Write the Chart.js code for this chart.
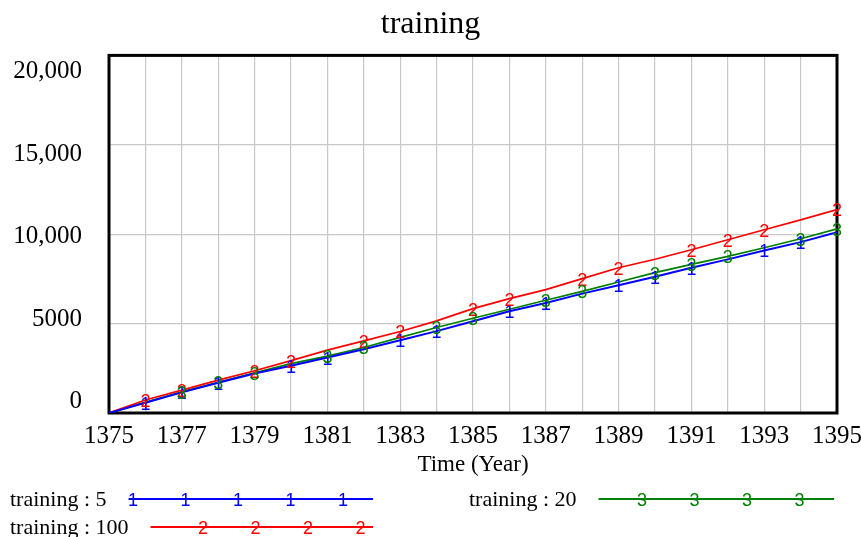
<!DOCTYPE html>
<html lang="en">
<head>
  <meta charset="UTF-8">
  <title>training</title>
  <script src="https://cdn.jsdelivr.net/npm/chart.js"></script>
  <style>
    body { margin: 0; background: #fff; }
  </style>
</head>
<body>
  <canvas id="trainingChart" width="861" height="537"></canvas>

  <script>
    // yearly values
    const years = [1375, 1376, 1377, 1378, 1379, 1380, 1381, 1382, 1383, 1384, 1385,
                   1386, 1387, 1388, 1389, 1390, 1391, 1392, 1393, 1394, 1395];
    const training5 = [0, 575, 1155, 1690, 2214, 2640, 3100, 3570, 4073, 4580, 5130,
                       5690, 6155, 6676, 7141, 7620, 8127, 8591, 9093, 9558, 10116];
    const training100 = [0, 725, 1283, 1841, 2361, 2930, 3515, 4034, 4560, 5150, 5840,
                         6398, 6899, 7513, 8126, 8600, 9130, 9688, 10246, 10804, 11380];
    const training20 = [0, 600, 1180, 1710, 2250, 2760, 3180, 3665, 4230, 4781, 5300,
                        5802, 6304, 6806, 7327, 7850, 8312, 8759, 9244, 9744, 10303];

    // years where the numbered markers sit on each run
    const marks5 = [1376, 1377, 1378, 1380, 1381, 1383, 1384, 1386, 1387, 1389, 1390, 1391, 1393, 1394];
    const marks100 = [1376, 1377, 1379, 1380, 1382, 1383, 1385, 1386, 1388, 1389, 1391, 1392, 1393, 1395];
    const marks20 = [1377, 1378, 1379, 1381, 1382, 1384, 1385, 1387, 1388, 1390, 1391, 1392, 1394, 1395];

    const yTicks = [0, 5000, 10000, 15000, 20000];
    const xTickLabels = [1375, 1377, 1379, 1381, 1383, 1385, 1387, 1389, 1391, 1393, 1395];

    const serif = '"Liberation Serif", "Times New Roman", serif';
    const sans = '"Liberation Sans", Arial, sans-serif';

    function toPoints(values) {
      return years.map((yr, i) => ({ x: yr, y: values[i] }));
    }

    // black box round the plot, under the lines
    const framePlugin = {
      id: 'frame',
      beforeDatasetsDraw(chart) {
        const a = chart.chartArea;
        const ctx = chart.ctx;
        ctx.save();
        ctx.strokeStyle = '#000';
        ctx.lineWidth = 3;
        ctx.strokeRect(a.left, a.top, a.right - a.left, a.bottom - a.top);
        ctx.restore();
      }
    };

    // the "1", "2", "3" markers drawn on the library's own points
    const digitPlugin = {
      id: 'digits',
      afterDatasetsDraw(chart) {
        const ctx = chart.ctx;
        ctx.save();
        ctx.font = '18px ' + sans;
        ctx.textAlign = 'center';
        ctx.textBaseline = 'middle';
        chart.data.datasets.forEach((ds, i) => {
          const meta = chart.getDatasetMeta(i);
          ctx.fillStyle = ds.borderColor;
          ds.markYears.forEach(yr => {
            const pt = meta.data[years.indexOf(yr)];
            if (pt) ctx.fillText(ds.marker, pt.x, pt.y + 2);
          });
        });
        ctx.restore();
      }
    };

    // Vensim style legend: name, then a line with the run's number on it
    const legendPlugin = {
      id: 'vensimLegend',
      afterDraw(chart, args, opts) {
        const ctx = chart.ctx;
        ctx.save();
        opts.rows.forEach(row => {
          const ds = chart.data.datasets[row.ds];
          ctx.font = '22px ' + serif;
          ctx.fillStyle = '#000';
          ctx.textAlign = 'left';
          ctx.textBaseline = 'alphabetic';
          ctx.fillText(ds.label, row.x, row.y + 7);
          const start = row.x + ctx.measureText(ds.label).width + 22;
          ctx.strokeStyle = ds.borderColor;
          ctx.lineWidth = 2;
          ctx.beginPath();
          ctx.moveTo(start, row.y);
          ctx.lineTo(row.lineEnd, row.y);
          ctx.stroke();
          ctx.font = '18px ' + sans;
          ctx.fillStyle = ds.borderColor;
          ctx.textAlign = 'center';
          ctx.textBaseline = 'middle';
          for (let k = 0; k < row.count; k++) {
            ctx.fillText(ds.marker, row.firstMark + k * 52.5, row.y + 2);
          }
        });
        ctx.restore();
      }
    };

    const ctx = document.getElementById('trainingChart').getContext('2d');

    new Chart(ctx, {
      type: 'line',
      data: {
        datasets: [
          { label: 'training : 5', data: toPoints(training5), borderColor: '#0000ff',
            borderWidth: 2, pointRadius: 0, marker: '1', markYears: marks5 },
          { label: 'training : 100', data: toPoints(training100), borderColor: '#ff0000',
            borderWidth: 1.7, pointRadius: 0, marker: '2', markYears: marks100 },
          { label: 'training : 20', data: toPoints(training20), borderColor: '#008000',
            borderWidth: 1.7, pointRadius: 0, marker: '3', markYears: marks20 }
        ]
      },
      options: {
        responsive: false,
        animation: false,
        layout: { padding: { left: 0, right: 0, top: 0, bottom: 54 } },
        plugins: {
          legend: { display: false },
          tooltip: { enabled: false },
          title: {
            display: true,
            text: 'training',
            color: '#000',
            font: { family: serif, size: 32, weight: 'normal' },
            padding: { top: 5, bottom: 12 }
          },
          vensimLegend: {
            rows: [
              { ds: 0, x: 10, y: 499, lineEnd: 373, firstMark: 133, count: 5 },
              { ds: 1, x: 10, y: 527, lineEnd: 373, firstMark: 203, count: 4 },
              { ds: 2, x: 469, y: 499, lineEnd: 834, firstMark: 642, count: 4 }
            ]
          }
        },
        scales: {
          x: {
            type: 'linear',
            min: 1375,
            max: 1395,
            grid: { color: '#c8c8c8', lineWidth: 1.2, drawTicks: false },
            border: { display: false },
            afterBuildTicks: s => { s.ticks = years.map(v => ({ value: v })); },
            afterFit: s => { s.height = 70; s.paddingLeft = 0; s.paddingRight = 24; },
            ticks: {
              autoSkip: false,
              maxRotation: 0,
              padding: 8,
              color: '#000',
              font: { family: serif, size: 25 },
              callback: v => xTickLabels.includes(v) ? String(v) : ''
            },
            title: {
              display: true,
              text: 'Time (Year)',
              color: '#000',
              font: { family: serif, size: 23 },
              padding: { top: 0, bottom: 4 }
            }
          },
          y: {
            min: 0,
            max: 20000,
            grid: { color: '#c8c8c8', lineWidth: 1.2, drawTicks: false },
            border: { display: false },
            afterBuildTicks: s => { s.ticks = yTicks.map(v => ({ value: v })); },
            afterFit: s => { s.width = 0; },
            ticks: { display: false }
          },
          // labels only: spread a little wider than the grid, as in the source picture
          yLabels: {
            position: 'left',
            min: -680,
            max: 20970,
            grid: { display: false },
            border: { display: false },
            afterBuildTicks: s => { s.ticks = yTicks.map(v => ({ value: v })); },
            afterFit: s => { s.width = 109; },
            ticks: {
              padding: 19,
              color: '#000',
              font: { family: serif, size: 25 },
              callback: v => v >= 10000 ? v.toLocaleString('en-US') : String(v)
            }
          }
        }
      },
      plugins: [framePlugin, digitPlugin, legendPlugin]
    });
  </script>
</body>
</html>
